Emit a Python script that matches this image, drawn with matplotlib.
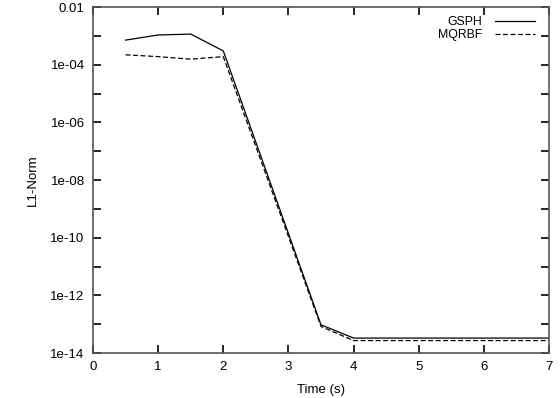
import numpy as np
from matplotlib import pyplot as plt
from matplotlib.ticker import FixedLocator, NullFormatter

plt.rcParams['font.family'] = ['Liberation Sans', 'DejaVu Sans']

# datos
t = [0.5, 1.0, 1.5, 2.0, 3.5, 4.0, 7.0]
gsph = [7.1e-4, 1.07e-3, 1.15e-3, 3.0e-4, 9.5e-14, 3.3e-14, 3.3e-14]
mqrbf = [2.2e-4, 1.9e-4, 1.55e-4, 1.9e-4, 8.3e-14, 2.7e-14, 2.7e-14]
xticks = [0, 1, 2, 3, 4, 5, 6, 7]
ymajor = [1e-14, 1e-12, 1e-10, 1e-8, 1e-6, 1e-4, 1e-2]
ylabels = ['1e-14', '1e-12', '1e-10', '1e-08', '1e-06', '1e-04', '0.01']
yminor = [1e-13, 1e-11, 1e-9, 1e-7, 1e-5, 1e-3]

px = 1/100
fig = plt.figure(figsize=(560*px, 398*px), dpi=100)
ax = fig.add_axes([93/560, 45/398, 456/560, 346/398])

ax.plot(t, gsph, color='k', lw=0.9, label='GSPH')
ax.plot(t, mqrbf, color='k', lw=0.9, dashes=(4, 2), label='MQRBF')

ax.set_yscale('log')
ax.set_xlim(0, 7)
ax.set_ylim(1e-14, 1e-2)
ax.set_xticks(xticks)
ax.yaxis.set_major_locator(FixedLocator(ymajor))
ax.set_yticklabels(ylabels)
ax.yaxis.set_minor_locator(FixedLocator(yminor))
ax.yaxis.set_minor_formatter(NullFormatter())
ax.tick_params(which='both', direction='in', length=6, width=1.2,
               top=True, right=True, labelsize=9.5, pad=6, color='k')
for s in ax.spines.values():
    s.set_color('#555555')
    s.set_linewidth(1.2)

ax.set_xlabel('Time (s)', fontsize=9.5, labelpad=8)
ax.set_ylabel('L1-Norm', fontsize=9.5, labelpad=8)

ax.legend(loc='upper right', frameon=False, markerfirst=False, fontsize=8.8,
          handlelength=3.3, handletextpad=1.05, labelspacing=0.1,
          borderaxespad=0, borderpad=0,
          bbox_to_anchor=(1 - 14/456, 1 - 9/346))

plt.savefig('out.png', dpi=100)
